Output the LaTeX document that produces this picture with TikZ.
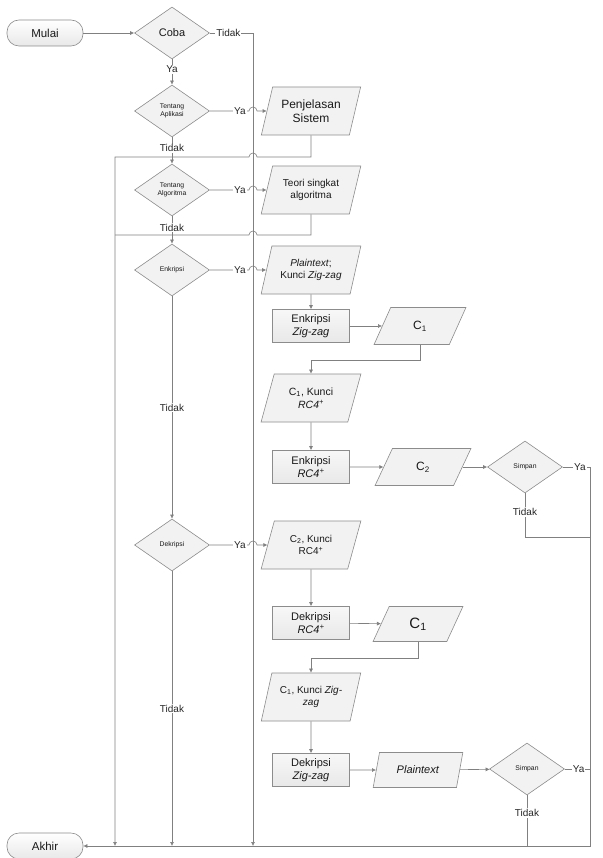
\documentclass[tikz,border=0pt]{standalone}
\usepackage{fontspec}
\setmainfont{Liberation Sans}
\usepackage{tikz}
\usetikzlibrary{shapes.geometric,arrows.meta}

\tikzset{
  box/.style={draw=black!45, fill=black!5, text=black!90, align=center, inner sep=1pt, line width=0.6pt},
  term/.style={box, rectangle, rounded corners=12pt, top color=white, bottom color=black!9, minimum width=76pt, minimum height=26pt, font=\fontsize{11.5}{13}\selectfont},
  tanya/.style={box, diamond, minimum width=75pt, minimum height=52pt, font=\fontsize{6.8}{8.5}\selectfont},
  data/.style={box, trapezium, trapezium left angle=70, trapezium right angle=110, trapezium stretches=true, minimum width=100pt, minimum height=48pt, font=\fontsize{10}{12.5}\selectfont},
  proses/.style={box, rectangle, top color=black!3, bottom color=black!9, minimum width=77pt, minimum height=33pt, font=\fontsize{11}{13}\selectfont},
  lbl/.style={fill=white, inner sep=1pt, text=black!85, font=\fontsize{10}{12}\selectfont},
  alur/.style={draw=black!50, line width=0.6pt}
}

\begin{document}
\begin{tikzpicture}[x=1pt,y=-1pt,>={Latex[length=4pt,width=4pt]}]
  \useasboundingbox (0,0) rectangle (602,858);
  \node[term] (mulai) at (45,33) {Mulai};
  \node[tanya, font=\fontsize{11}{13}\selectfont] (coba) at (172,33) {Coba};
  \node[tanya] (aplikasi) at (172,111) {Tentang\\Aplikasi};
  \node[data, font=\fontsize{12}{14}\selectfont] (penjelasan) at (311,111) {Penjelasan\\Sistem};
  \node[tanya] (algoritma) at (172,190) {Tentang\\Algoritma};
  \node[data] (teori) at (311,190) {Teori singkat\\algoritma};
  \node[tanya] (enkripsi) at (172,270) {Enkripsi};
  \node[data] (kunciA) at (311,270) {\textit{Plaintext};\\Kunci \textit{Zig-zag}};
  \node[proses] (enkZig) at (311,326) {Enkripsi\\\textit{Zig-zag}};
  \node[data, minimum width=92pt, minimum height=37pt, font=\fontsize{12}{14}\selectfont] (cA) at (420,326) {C\textsubscript{1}};
  \node[data, font=\fontsize{10.5}{13}\selectfont] (kunciB) at (311,398) {C\textsubscript{1}, Kunci\\\textit{RC4\textsuperscript{+}}};
  \node[proses] (enkRC) at (311,467) {Enkripsi\\\textit{RC4\textsuperscript{+}}};
  \node[data, minimum width=96pt, minimum height=37pt, font=\fontsize{12}{14}\selectfont] (cB) at (423,467) {C\textsubscript{2}};
  \node[tanya] (simpan1) at (525,467) {Simpan};
  \node[tanya] (dekripsi) at (172,545) {Dekripsi};
  \node[data] (kunciC) at (311,545) {C\textsubscript{2}, Kunci\\RC4\textsuperscript{+}};
  \node[proses] (dekRC) at (311,623) {Dekripsi\\\textit{RC4\textsuperscript{+}}};
  \node[data, minimum width=90pt, minimum height=35pt, font=\fontsize{15}{17}\selectfont] (cC) at (418,624) {C\textsubscript{1}};
  \node[data] (kunciD) at (311,697) {C\textsubscript{1}, Kunci \textit{Zig-}\\\textit{zag}};
  \node[proses] (dekZig) at (311,770) {Dekripsi\\\textit{Zig-zag}};
  \node[data, minimum width=90pt, minimum height=35pt, font=\fontsize{11}{13}\selectfont] (plain) at (418,770) {\textit{Plaintext}};
  \node[tanya] (simpan2) at (527,769) {Simpan};
  \node[term] (akhir) at (45,846) {Akhir};
  \coordinate (jalurT) at (253,33);
  \coordinate (jalurK) at (115,157);
  \coordinate (jalurK2) at (115,235);
  \coordinate (jalurKa) at (590,467);
  \coordinate (simpanT) at (525,537);
  \draw[alur,->] (mulai) -- (coba);
  \draw[alur,->] (coba) -- node[lbl,pos=0.4]{Ya} (aplikasi);
  \draw[alur,->] (coba.east) -- node[lbl,pos=0.43]{Tidak} (jalurT) -- (jalurT |- akhir);
  \draw[alur,->] (aplikasi.east) -- node[lbl,pos=0.77]{Ya} (249,111) arc[start angle=180,end angle=0,radius=4pt] -- (penjelasan);
  \draw[alur,->] (aplikasi) -- node[lbl,pos=0.42]{Tidak} (algoritma);
  \draw[alur,->] (penjelasan.south) -- (penjelasan.south |- jalurK) -- (257,157) arc[start angle=0,end angle=180,radius=4pt] -- (jalurK) -- (jalurK |- akhir);
  \draw[alur,->] (algoritma.east) -- node[lbl,pos=0.77]{Ya} (249,190) arc[start angle=180,end angle=0,radius=4pt] -- (teori);
  \draw[alur,->] (algoritma) -- node[lbl,pos=0.42]{Tidak} (enkripsi);
  \draw[alur] (teori.south) -- (teori.south |- jalurK2) -- (257,235) arc[start angle=0,end angle=180,radius=4pt] -- (jalurK2);
  \draw[alur,->] (enkripsi.east) -- node[lbl,pos=0.77]{Ya} (249,270) arc[start angle=180,end angle=0,radius=4pt] -- (kunciA);
  \draw[alur,->] (kunciA) -- (enkZig);
  \draw[alur,->] (enkZig) -- (cA);
  \draw[alur,->] (cA.south) -- ++(0,15) -| (kunciB);
  \draw[alur,->] (kunciB) -- (enkRC);
  \draw[alur,->] (enkRC) -- (cB);
  \draw[alur,->] (cB) -- (simpan1);
  \draw[alur] (simpan1.east) -- node[lbl,pos=0.63]{Ya} (jalurKa);
  \draw[alur] (simpan1) -- node[lbl,pos=0.43]{Tidak} (simpanT) -- (simpanT -| jalurKa);
  \draw[alur,->] (jalurKa) -- (jalurKa |- akhir) -- (akhir);
  \draw[alur,->] (enkripsi) -- node[lbl,pos=0.5]{Tidak} (dekripsi);
  \draw[alur,->] (dekripsi.east) -- node[lbl,pos=0.77]{Ya} (249,545) arc[start angle=180,end angle=0,radius=4pt] -- (kunciC);
  \draw[alur,->] (kunciC) -- (dekRC);
  \draw[alur,->] (dekRC) -- (cC);
  \draw[alur,->] (cC.south) -- ++(0,16) -| (kunciD);
  \draw[alur,->] (kunciD) -- (dekZig);
  \draw[alur,->] (dekZig) -- (plain);
  \draw[alur,->] (plain) -- (simpan2);
  \draw[alur] (simpan2.east) -- node[lbl,pos=0.55]{Ya} (simpan2 -| jalurKa);
  \draw[alur] (simpan2) -- node[lbl,pos=0.35]{Tidak} (simpan2 |- akhir);
  \draw[alur,->] (dekripsi) -- node[lbl,pos=0.5]{Tidak} (dekripsi |- akhir);
\end{tikzpicture}
\end{document}
